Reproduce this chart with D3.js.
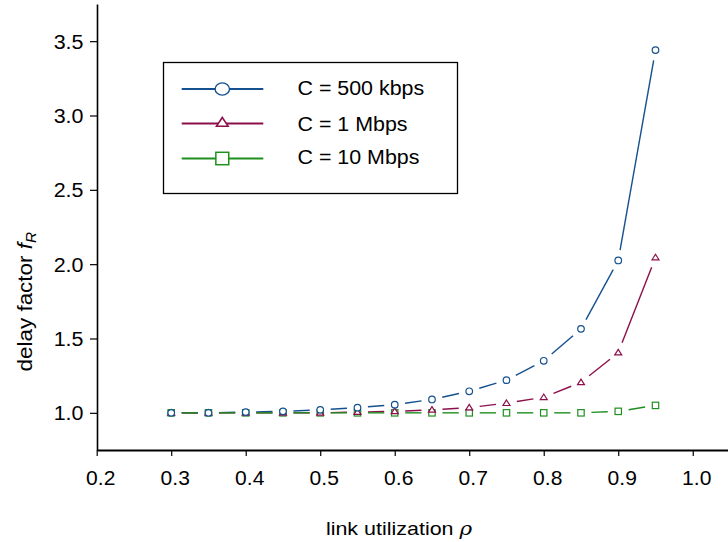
<!DOCTYPE html>
<html><head><meta charset="utf-8">
<script src="https://cdn.jsdelivr.net/npm/d3@7"></script>
<style>body{margin:0;background:#fff}svg{display:block;font-family:"Liberation Sans",Arial,sans-serif}</style>
</head><body><svg id="c" width="728" height="542"></svg>
<script>
const rho = [0.3,0.35,0.4,0.45,0.5,0.55,0.6,0.65,0.7,0.75,0.8,0.85,0.9,0.95];
const c500k = [1.0,1.0,1.005,1.01,1.02,1.035,1.055,1.09,1.145,1.22,1.35,1.565,2.025,3.44];
const c1M   = [1.0,1.0,1.0,1.0,1.0,1.005,1.01,1.02,1.035,1.065,1.105,1.205,1.405,2.045];
const c10M  = [1.0,1.0,1.0,1.0,1.0,1.0,1.0,1.0,1.0,1.0,1.0,1.0,1.01,1.05];
const xTicks = [0.2,0.3,0.4,0.5,0.6,0.7,0.8,0.9,1.0];
const yTicks = [1.0,1.5,2.0,2.5,3.0,3.5];
const seriesNames = ["C = 500 kbps","C = 1 Mbps","C = 10 Mbps"];

const series = [
  {name:seriesNames[0], vals:c500k, color:"#15508f", sym:"circle"},
  {name:seriesNames[1], vals:c1M, color:"#8c0f4b", sym:"triangle"},
  {name:seriesNames[2], vals:c10M, color:"#1f8f1f", sym:"square"}
];

const svg = d3.select("#c");
const x = d3.scaleLinear().domain([0.2,1.05]).range([96.7,730]);
const y = d3.scaleLinear().domain([0.75,3.75]).range([450,4]);

// axes
const gx = svg.append("g").attr("transform","translate(0,450)")
  .call(d3.axisBottom(x).tickValues(xTicks).tickFormat(d3.format(".1f")).tickSize(6).tickSizeOuter(0));
const gy = svg.append("g").attr("transform","translate(97,0)")
  .call(d3.axisLeft(y).tickValues(yTicks).tickFormat(d3.format(".1f")).tickSize(7).tickSizeOuter(0));
gx.select(".domain").attr("stroke-width",2.2);
gy.select(".domain").attr("stroke-width",1.6);
[gx,gy].forEach(g=>{
  g.selectAll(".tick line").attr("stroke-width",1.2);
  g.selectAll(".tick text").attr("font-size",19.5).attr("fill","#000").attr("font-family","Liberation Sans, Arial, sans-serif");
});
gx.selectAll(".tick text").attr("y",0).attr("dy",0).attr("transform","translate(3.5,35) scale(1.08,1)");
gy.selectAll(".tick text").attr("x",0).attr("dy","0.35em").attr("transform","translate(-13.5,0) scale(1.1,1)");

// axis titles
const xt = svg.append("text").attr("transform","translate(399,535) scale(1.13,1)").attr("text-anchor","middle").attr("font-size",19);
xt.append("tspan").text("link utilization ");
xt.append("tspan").attr("font-style","italic").attr("font-family","DejaVu Serif, serif").text("ρ");
const yl = svg.append("text").attr("transform","translate(32,301.7) rotate(-90) scale(1.18,1.08)").attr("text-anchor","middle").attr("font-size",19);
yl.append("tspan").text("delay factor ");
yl.append("tspan").attr("font-style","italic").text("f");
yl.append("tspan").attr("font-style","italic").attr("font-size",13).attr("dy",4).text("R");

function drawSym(g, sym, cx, cy, s, color, sw, kx){
  kx = kx || 1;
  if(sym==="circle") g.append("ellipse").attr("cx",cx).attr("cy",cy).attr("rx",s*kx).attr("ry",s).attr("fill","#fff").attr("stroke",color).attr("stroke-width",sw);
  else if(sym==="square") g.append("rect").attr("x",cx-s*kx).attr("y",cy-s).attr("width",2*s*kx).attr("height",2*s).attr("fill","#fff").attr("stroke",color).attr("stroke-width",sw);
  else g.append("path").attr("d",`M${cx},${cy-s*1.1}L${cx+s*1.2*kx},${cy+s*0.8}L${cx-s*1.2*kx},${cy+s*0.8}Z`).attr("fill","#fff").attr("stroke",color).attr("stroke-width",sw);
}

const gap = 10.5;
series.forEach(s=>{
  const g = svg.append("g");
  const pts = rho.map((r,i)=>[x(r),y(s.vals[i])]);
  for(let i=0;i<pts.length-1;i++){
    const [x1,y1]=pts[i],[x2,y2]=pts[i+1];
    const L=Math.hypot(x2-x1,y2-y1);
    if(L<=2*gap+1) continue;
    const ux=(x2-x1)/L, uy=(y2-y1)/L;
    g.append("line").attr("x1",x1+ux*gap).attr("y1",y1+uy*gap).attr("x2",x2-ux*gap).attr("y2",y2-uy*gap)
      .attr("stroke",s.color).attr("stroke-width",1.4);
  }
});
series.slice().reverse().forEach(s=>{
  const g = svg.append("g");
  rho.forEach((r,i)=>drawSym(g,s.sym,x(r),y(s.vals[i]),s.sym==="square"?3.2:(s.sym==="circle"?3.3:2.9),s.color,1.2));
});

// legend
const lg = svg.append("g");
lg.append("rect").attr("x",163.5).attr("y",62.5).attr("width",294).attr("height",131).attr("fill","#fff").attr("stroke","#000").attr("stroke-width",1.3);
const ly=[89,123.5,158.5], tb=[95,130.7,164.3];
series.forEach((s,i)=>{
  lg.append("line").attr("x1",181.7).attr("x2",263.3).attr("y1",ly[i]).attr("y2",ly[i]).attr("stroke",s.color).attr("stroke-width",1.8);
  if(s.sym==="circle") drawSym(lg,"circle",222.3,ly[i],6.1,s.color,1.4,1.18);
  else if(s.sym==="square") drawSym(lg,"square",222.3,ly[i],6.2,s.color,1.5,1.04);
  else drawSym(lg,"triangle",222.3,122.5,4.6,s.color,1.6,1.05);
  lg.append("text").attr("transform",`translate(297.5,${tb[i]}) scale(1.07,1)`).attr("font-size",20).text(s.name);
});
</script></body></html>
